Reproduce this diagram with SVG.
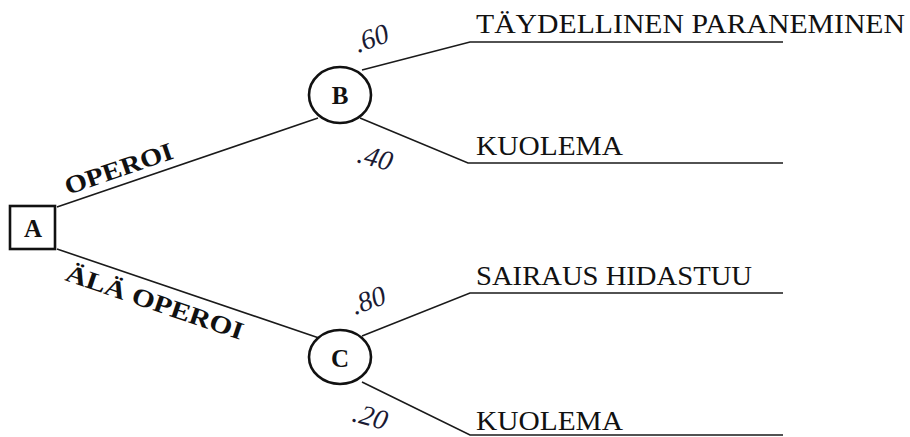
<svg xmlns="http://www.w3.org/2000/svg" width="910" height="437" viewBox="0 0 910 437">
  <style>
    .edge { fill: none; stroke: #1a1a1a; stroke-width: 1.6; }
    .node { fill: #ffffff; stroke: #111111; stroke-width: 2.6; }
    .nlabel { font-family: "Liberation Serif", serif; font-weight: bold; font-size: 25px; fill: #111111; text-anchor: middle; }
    .outcome { font-family: "Liberation Serif", serif; font-size: 27px; fill: #111111; }
    .prob { font-family: "Liberation Serif", serif; font-style: italic; font-size: 28px; fill: #1a1a33; }
    .choice { font-family: "Liberation Serif", serif; font-weight: bold; font-size: 25px; fill: #111111; }
  </style>

  <g id="connectors">
    <!-- decision branches -->
    <line class="edge" x1="57" y1="207" x2="318" y2="118"/>
    <line class="edge" x1="57" y1="249" x2="319" y2="338"/>
    <!-- chance branches from B -->
    <polyline class="edge" points="362,70 470,42 783,42"/>
    <polyline class="edge" points="360,118 468,163 783,163"/>
    <!-- chance branches from C -->
    <polyline class="edge" points="362,336 470,293 783,293"/>
    <polyline class="edge" points="362,382 470,435 783,435"/>
  </g>

  <g id="node-A">
    <rect class="node" x="10" y="206" width="45" height="43"/>
    <text class="nlabel" x="33" y="237">A</text>
  </g>

  <g id="node-B">
    <ellipse class="node" cx="340" cy="95" rx="31" ry="28"/>
    <text class="nlabel" x="340" y="104">B</text>
  </g>

  <g id="node-C">
    <ellipse class="node" cx="340" cy="357" rx="31" ry="27"/>
    <text class="nlabel" x="340" y="367">C</text>
  </g>

  <g id="choice-labels">
    <text class="choice" transform="translate(68,195) rotate(-19)" textLength="113" lengthAdjust="spacingAndGlyphs">OPEROI</text>
    <text class="choice" transform="translate(64,280) rotate(18.8)" textLength="186" lengthAdjust="spacingAndGlyphs">ÄLÄ OPEROI</text>
  </g>

  <g id="probabilities">
    <text class="prob" transform="translate(358,53) rotate(-20)">.60</text>
    <text class="prob" transform="translate(356,162) rotate(15)">.40</text>
    <text class="prob" transform="translate(355,315) rotate(-20)">.80</text>
    <text class="prob" transform="translate(351,421) rotate(15)">.20</text>
  </g>

  <g id="outcomes">
    <text class="outcome" x="476" y="33" textLength="429" lengthAdjust="spacingAndGlyphs">TÄYDELLINEN PARANEMINEN</text>
    <text class="outcome" x="476" y="155" textLength="147" lengthAdjust="spacingAndGlyphs">KUOLEMA</text>
    <text class="outcome" x="476" y="285" textLength="276" lengthAdjust="spacingAndGlyphs">SAIRAUS HIDASTUU</text>
    <text class="outcome" x="476" y="430" textLength="147" lengthAdjust="spacingAndGlyphs">KUOLEMA</text>
  </g>
</svg>
